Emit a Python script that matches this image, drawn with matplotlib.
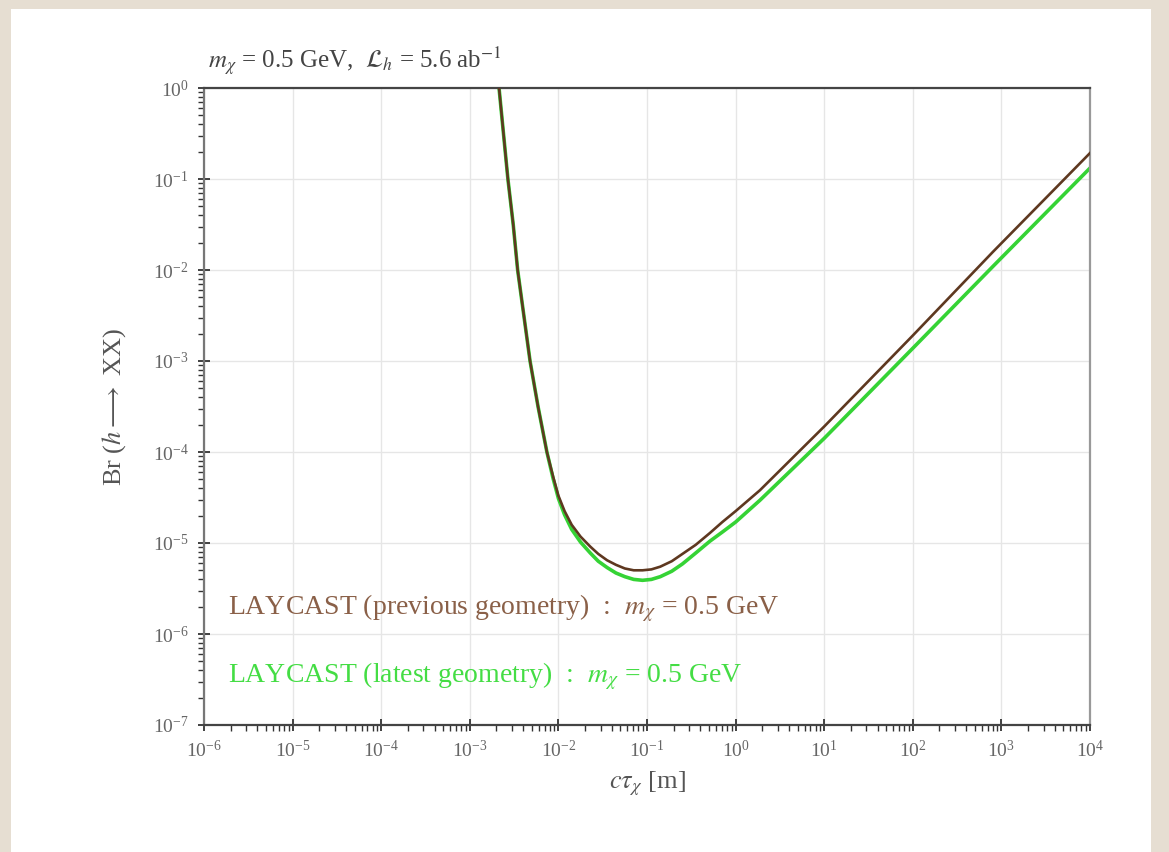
import matplotlib
matplotlib.use("Agg")
import matplotlib.pyplot as plt
import numpy as np
from matplotlib.patches import Rectangle
from matplotlib.ticker import LogLocator, NullFormatter

# log10(c tau [m]) and log10(Br)
prev_logx = [-2.70, -2.62, -2.57, -2.51, -2.46, -2.39, -2.32, -2.23, -2.13, -2.06, -2.0,
             -1.93, -1.85, -1.75, -1.64, -1.55, -1.45, -1.35, -1.25, -1.15,
             -1.05, -0.95, -0.85, -0.72, -0.6, -0.45, -0.29, -0.15, 0.0, 0.275,
             1.0, 2.0, 2.905, 4.0]
prev_logy = [0.30, -0.5, -1.0, -1.5, -2.0, -2.5, -3.0, -3.5, -4.0, -4.27, -4.48,
             -4.65, -4.80, -4.93, -5.04, -5.12, -5.19, -5.24, -5.28, -5.30,
             -5.30, -5.29, -5.26, -5.20, -5.12, -5.02, -4.89, -4.77, -4.65, -4.42,
             -3.72, -2.72, -1.80, -0.715]
new_logx = [-2.70, -2.62, -2.57, -2.51, -2.46, -2.39, -2.32, -2.23, -2.13, -2.06, -2.0,
            -1.93, -1.85, -1.75, -1.64, -1.55, -1.45, -1.35, -1.25, -1.15,
            -1.05, -0.95, -0.85, -0.72, -0.6, -0.45, -0.29, -0.15, 0.0, 0.275,
            1.0, 2.0, 2.905, 4.0]
new_logy = [0.30, -0.5, -1.0, -1.5, -2.0, -2.5, -3.0, -3.5, -4.0, -4.29, -4.51,
            -4.69, -4.85, -4.99, -5.11, -5.20, -5.27, -5.33, -5.37, -5.40,
            -5.41, -5.40, -5.37, -5.31, -5.23, -5.11, -4.98, -4.88, -4.77, -4.53,
            -3.85, -2.86, -1.96, -0.88]

xticks = [1e-6, 1e-5, 1e-4, 1e-3, 1e-2, 1e-1, 1e0, 1e1, 1e2, 1e3, 1e4]
yticks = [1e-7, 1e-6, 1e-5, 1e-4, 1e-3, 1e-2, 1e-1, 1e0]

plt.rcParams['mathtext.fontset'] = 'stix'
plt.rcParams['font.family'] = ['Liberation Serif', 'DejaVu Serif']

W, H = 1169, 852
fig = plt.figure(figsize=(W / 100, H / 100), dpi=100)
fig.patch.set_facecolor('#e6ded2')
bg = fig.add_axes([11 / W, 0, (1151 - 11) / W, 1 - 9 / H], zorder=-5)
bg.set_axis_off()
bg.add_patch(Rectangle((0, 0), 1, 1, transform=bg.transAxes, facecolor='white', edgecolor='none'))

ax = fig.add_axes([204 / W, 1 - 725 / H, (1090 - 204) / W, (725 - 88) / H], zorder=1)
ax.set_facecolor('white')

brown = '#5e3820'
green = '#35d335'
ax.plot(10 ** np.array(new_logx), 10 ** np.array(new_logy), color=green, lw=2.6, zorder=2)
ax.plot(10 ** np.array(prev_logx), 10 ** np.array(prev_logy), color=brown, lw=1.9, zorder=3)

ax.set_xscale('log')
ax.set_yscale('log')
ax.set_xlim(1e-6, 1e4)
ax.set_ylim(1e-7, 1e0)
ax.set_xticks(xticks)
ax.set_yticks(yticks)
ax.xaxis.set_minor_locator(LogLocator(base=10, subs=np.arange(2, 10), numticks=100))
ax.yaxis.set_minor_locator(LogLocator(base=10, subs=np.arange(2, 10), numticks=100))
ax.xaxis.set_minor_formatter(NullFormatter())
ax.yaxis.set_minor_formatter(NullFormatter())

ax.grid(True, which='major', color='#e6e6e6', lw=1.0)
ax.tick_params(which='major', direction='inout', length=8, width=1.3, colors='#333333',
               labelsize=14, labelcolor='#666666', pad=7)
ax.tick_params(which='minor', direction='out', length=4, width=1.0, colors='#333333')
for s in ax.spines.values():
    s.set_color('#444444')
    s.set_linewidth(1.6)
ax.spines['right'].set_color('#999999')
ax.spines['left'].set_color('#777777')

ax.set_xlabel(r'$c\tau_\chi$ [m]', fontsize=19, color='#555555', labelpad=6)
ax.set_ylabel(r'Br ($h \longrightarrow$ XX)', fontsize=19, color='#555555', labelpad=18)

ax.text(0.005, 1.015, r'$m_\chi$ = 0.5 GeV,  $\mathcal{L}_h$ = 5.6 ab$^{-1}$',
        transform=ax.transAxes, fontsize=18, color='#444444', ha='left', va='bottom')

ax.text(0.027, 0.183, r'LAYCAST (previous geometry)  :  $m_\chi$ = 0.5 GeV',
        transform=ax.transAxes, fontsize=20, color='#8a6048', ha='left', va='center')
ax.text(0.027, 0.076, r'LAYCAST (latest geometry)  :  $m_\chi$ = 0.5 GeV',
        transform=ax.transAxes, fontsize=20, color='#44dd44', ha='left', va='center')

fig.savefig('out.png', dpi=100, facecolor=fig.get_facecolor())
